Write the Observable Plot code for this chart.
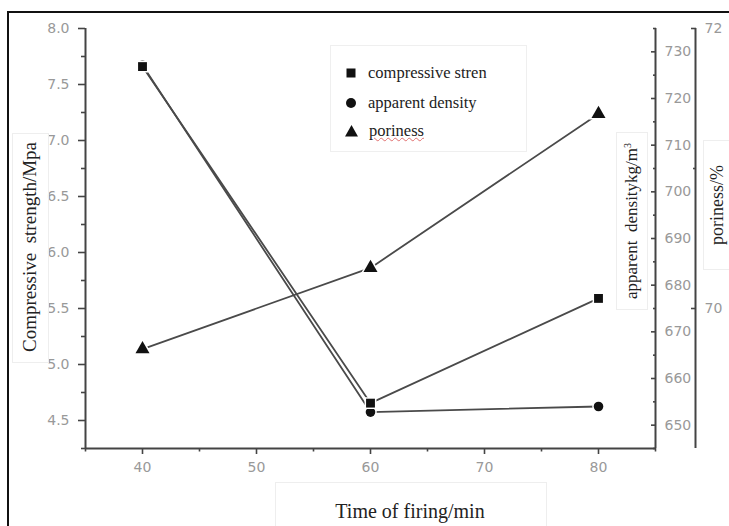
<!DOCTYPE html>
<html><head><meta charset="utf-8">
<script src="https://cdn.jsdelivr.net/npm/d3@7"></script>
<script src="https://cdn.jsdelivr.net/npm/@observablehq/plot@0.6"></script>
<style>
body{margin:0;background:#fff}
#wrap{position:relative;width:729px;height:526px;overflow:hidden;background:#fff}
#chart{position:absolute;left:0;top:0}
#frame{position:absolute;left:7px;top:11px;width:760px;height:560px;border:2px solid #111;pointer-events:none}
.lab{position:absolute;font-family:"Liberation Serif","Times New Roman",serif;color:#222;white-space:nowrap;transform:translate(-50%,-50%)}
.rot{transform:translate(-50%,-50%) rotate(-90deg)}
.box{position:absolute;border:1px solid #eeeeee}
#legend{position:absolute;left:330px;top:45px;width:195px;height:105px;border:1px solid #efefef;font-family:"Liberation Serif","Times New Roman",serif;font-size:16.5px;color:#222}
.li{position:absolute;left:14px;height:20px;display:flex;align-items:center}
.li svg{margin-right:11px}
.wavy{text-decoration:underline wavy #e07070;text-decoration-thickness:1px}
</style>
</head><body>
<div id="wrap">
  <div id="chart"></div>
  <div class="box" style="left:12px;top:133px;width:35px;height:228px"></div>
  <div class="lab rot" style="left:30px;top:247px;font-size:19px">Compressive&nbsp; strength/Mpa</div>
  <div class="box" style="left:616px;top:132px;width:30px;height:176px"></div>
  <div class="lab rot" style="left:632px;top:221px;font-size:17px">apparent&nbsp; densitykg/m<sup style="font-size:10px">3</sup></div>
  <div class="box" style="left:703px;top:140px;width:26px;height:128px"></div>
  <div class="lab rot" style="left:717px;top:205px;font-size:18px">poriness/%</div>
  <div class="box" style="left:275px;top:482px;width:270px;height:50px"></div>
  <div class="lab" style="left:410px;top:511px;font-size:20px">Time of firing/min</div>
  <div id="legend">
    <div class="li" style="top:17px"><svg width="12" height="12"><rect x="1.5" y="1.5" width="9" height="9" fill="#111"/></svg>compressive stren</div>
    <div class="li" style="top:47px"><svg width="12" height="12"><circle cx="6" cy="6" r="5" fill="#111"/></svg>apparent density</div>
    <div class="li" style="top:75px"><svg width="13" height="12"><path d="M6.5,0L13,11.5L0,11.5Z" fill="#111"/></svg><span class="wavy">poriness</span></div>
  </div>
  <div id="frame"></div>
</div>
<script>
// ---- data ----
const times = [40, 60, 80];
const strength = [7.66, 4.655, 5.59];      // MPa (left axis)
const density = [727.1, 652.8, 654.0];      // kg/m3 (inner right axis)
const poriness = [69.71, 70.29, 71.39];     // % (outer right axis)

const xTicks = [40, 50, 60, 70, 80];
const xMinor = [35, 45, 55, 65, 75, 85];
const strengthTicks = [4.5, 5.0, 5.5, 6.0, 6.5, 7.0, 7.5, 8.0];
const strengthMinor = [4.25, 4.75, 5.25, 5.75, 6.25, 6.75, 7.25, 7.75];
const densityTicks = [650, 660, 670, 680, 690, 700, 710, 720, 730];
const densityMinor = [645, 655, 665, 675, 685, 695, 705, 715, 725, 735];
const porinessTicks = [70, 72];
const porinessMinor = [71];

const xDomain = [35, 85];
const strengthDomain = [4.25, 8.0];
const densityDomain = [645, 735];
const porinessDomain = [69, 72];

// secondary axes mapped onto the primary y scale
const fromDensity = d3.scaleLinear(densityDomain, strengthDomain);
const fromPoriness = d3.scaleLinear(porinessDomain, strengthDomain);

const rows = times.map((t, i) => ({t, s: strength[i], d: density[i], p: poriness[i]}));

const axisColor = "#444";
const tickText = "#999";
const tickFont = "DejaVu Sans, sans-serif";
const lineColor = "#4a4a4a";

const chart = Plot.plot({
  width: 729,
  height: 526,
  marginLeft: 85,
  marginRight: 74,
  marginTop: 28,
  marginBottom: 78,
  style: {background: "transparent", fontFamily: tickFont},
  x: {domain: xDomain, axis: null},
  y: {domain: strengthDomain, axis: null},
  marks: [
    // axis lines
    Plot.ruleX([xDomain[0]], {stroke: axisColor, strokeWidth: 2}),
    Plot.ruleX([xDomain[1]], {stroke: axisColor, strokeWidth: 2}),
    Plot.ruleX([xDomain[1]], {stroke: axisColor, strokeWidth: 2, dx: 40}),
    Plot.ruleY([strengthDomain[0]], {stroke: axisColor, strokeWidth: 2}),
    // bottom axis
    Plot.axisX(xTicks, {anchor: "bottom", tickSize: 6, stroke: axisColor, strokeWidth: 1.6, text: null, label: null}),
    Plot.axisX(xMinor, {anchor: "bottom", tickSize: 3.5, stroke: axisColor, strokeWidth: 1.6, text: null, label: null}),
    Plot.axisX(xTicks, {anchor: "bottom", tickSize: 0, tickPadding: 14, fill: tickText, fontSize: 14, fontFamily: tickFont, label: null}),
    // left axis
    Plot.axisY(strengthTicks, {anchor: "left", tickSize: 7, stroke: axisColor, strokeWidth: 1.6, text: null, label: null}),
    Plot.axisY(strengthMinor, {anchor: "left", tickSize: 4, stroke: axisColor, strokeWidth: 1.6, text: null, label: null}),
    Plot.axisY(strengthTicks, {anchor: "left", tickSize: 0, tickPadding: 16, fill: tickText, fontSize: 14, fontFamily: tickFont, tickFormat: d3.format(".1f"), label: null}),
    // density axis (ticks point inward)
    Plot.axisY(densityTicks.map(fromDensity), {anchor: "right", tickSize: 5, dx: -5, stroke: axisColor, strokeWidth: 1.6, text: null, label: null}),
    Plot.axisY(densityMinor.map(fromDensity), {anchor: "right", tickSize: 3, dx: -3, stroke: axisColor, strokeWidth: 1.6, text: null, label: null}),
    Plot.axisY(densityTicks.map(fromDensity), {anchor: "right", tickSize: 0, tickPadding: 9, fill: tickText, fontSize: 14, fontFamily: tickFont, tickFormat: v => Math.round(fromDensity.invert(v)), label: null}),
    // poriness axis
    Plot.axisY(porinessTicks.map(fromPoriness), {anchor: "right", tickSize: 5, dx: 35, stroke: axisColor, strokeWidth: 1.6, text: null, label: null}),
    Plot.axisY(porinessMinor.map(fromPoriness), {anchor: "right", tickSize: 3, dx: 37, stroke: axisColor, strokeWidth: 1.6, text: null, label: null}),
    Plot.axisY(porinessTicks.map(fromPoriness), {anchor: "right", tickSize: 0, tickPadding: 9, dx: 40, fill: tickText, fontSize: 14, fontFamily: tickFont, tickFormat: v => Math.round(fromPoriness.invert(v)), label: null}),
    // series lines
    Plot.line(rows, {x: "t", y: "s", stroke: lineColor, strokeWidth: 1.8}),
    Plot.line(rows, {x: "t", y: r => fromDensity(r.d), stroke: lineColor, strokeWidth: 1.8}),
    Plot.line(rows, {x: "t", y: r => fromPoriness(r.p), stroke: lineColor, strokeWidth: 1.8}),
    // markers
    Plot.dot(rows, {x: "t", y: r => fromDensity(r.d), symbol: "circle", r: 4.8, fill: "#111", stroke: "white", strokeWidth: 3, paintOrder: "stroke"}),
    Plot.dot(rows, {x: "t", y: "s", symbol: "square", r: 5, fill: "#111", stroke: "white", strokeWidth: 3, paintOrder: "stroke"}),
    Plot.dot(rows, {x: "t", y: r => fromPoriness(r.p), symbol: "triangle", r: 5.2, fill: "#111", stroke: "white", strokeWidth: 3, paintOrder: "stroke"})
  ]
});
document.getElementById("chart").appendChild(chart);
</script>
</body></html>
